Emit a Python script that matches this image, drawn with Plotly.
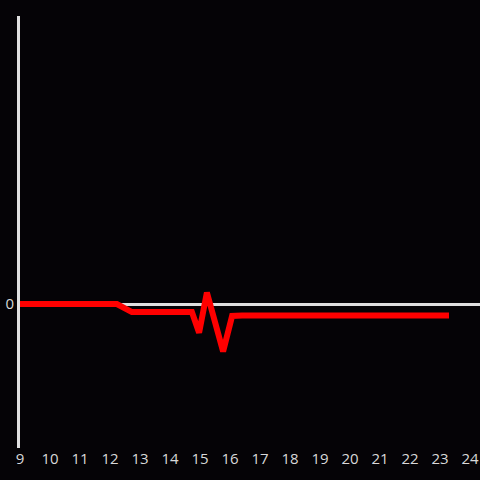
import plotly.graph_objects as go

# values
hours = [9, 12.23, 12.73, 14.73, 14.97, 15.23, 15.77, 16.07, 16.4, 23.3]
values = [0, 0, -0.056, -0.056, -0.2, 0.08, -0.33, -0.083, -0.08, -0.08]
tick_hours = list(range(9, 25))

fig = go.Figure()

fig.add_trace(
    go.Scatter(
        x=hours,
        y=values,
        mode="lines",
        line=dict(
            width=6,
            color="#ff0000"
        ),
        showlegend=False
    )
)

fig.update_layout(
    paper_bgcolor="#050306",
    plot_bgcolor="#050306",
    font=dict(
        family="Open Sans, Verdana, Arial, sans-serif",
        size=15,
        color="#d8d8d8"
    ),
    margin=dict(
        l=20,
        r=0,
        t=16,
        b=32
    ),
    xaxis=dict(
        range=[9, 24.333],
        tickvals=tick_hours,
        showgrid=False,
        zeroline=False,
        showline=False,
        ticks=""
    ),
    yaxis=dict(
        range=[-1, 2],
        tickvals=[0],
        showgrid=False,
        zeroline=True,
        zerolinecolor="#e0e0e0",
        zerolinewidth=3,
        showline=True,
        linecolor="#e0e0e0",
        linewidth=3,
        ticks=""
    )
)

# drop the page margin so the chart fills the whole window
fix_page = (
    "document.body.style.margin='0';"
    "document.body.style.background='#050306';"
    "Plotly.Plots.resize(document.getElementById('{plot_id}'));"
)

fig.write_html(
    "out.html",
    default_width="100vw",
    default_height="100vh",
    config={"displayModeBar": False},
    post_script=fix_page
)
